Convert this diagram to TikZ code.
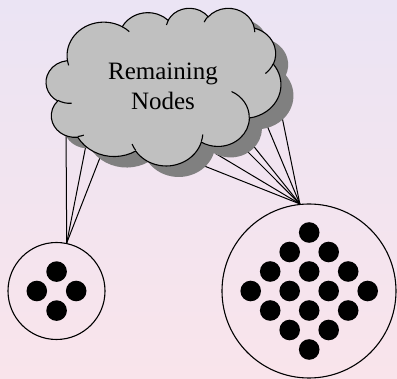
\documentclass[tikz,border=0pt]{standalone}
\usepackage{fontspec}
\setmainfont{Liberation Serif}
\newfontfamily\labelfont{Liberation Serif}

\definecolor{bgtop}{RGB}{235,228,244}
\definecolor{bgbottom}{RGB}{249,228,235}
\definecolor{cloudfill}{RGB}{192,192,192}
\definecolor{cloudshade}{RGB}{128,128,128}

% Convert a visual arc (start angle and sweep measured along rays, y pointing down)
% into the parametric start/end angles that TikZ's elliptic arc expects.
\newcommand\arcangles[4]{%
  \pgfmathsetmacro\cloudthA{#3}%
  \pgfmathsetmacro\cloudthB{#3+#4}%
  \pgfmathsetmacro\cloudta{atan2(#1*sin(\cloudthA),#2*cos(\cloudthA))}%
  \pgfmathsetmacro\cloudta{\cloudta+360*round((\cloudthA-\cloudta)/360)}%
  \pgfmathsetmacro\cloudtb{atan2(#1*sin(\cloudthB),#2*cos(\cloudthB))}%
  \pgfmathsetmacro\cloudtb{\cloudtb+360*round((\cloudthB-\cloudtb)/360)}%
}

% the eleven puffs of the cloud outline
\arcangles{67.53}{91.90}{-190.4875}{123.7805}\let\sA\cloudta\let\eA\cloudtb
\arcangles{53.33}{72.67}{-144.1024}{89.9452}\let\sB\cloudta\let\eB\cloudtb
\arcangles{43.65}{59.45}{-145.8079}{99.7230}\let\sC\cloudta\let\eC\cloudtb
\arcangles{48.57}{65.95}{-130.9861}{117.2417}\let\sD\cloudta\let\eD\cloudtb
\arcangles{53.33}{72.73}{-78.7089}{109.0269}\let\sE\cloudta\let\eE\cloudtb
\arcangles{67.75}{92.20}{-46.2673}{130.2690}\let\sF\cloudta\let\eF\cloudtb
\arcangles{57.85}{78.67}{0.6250}{114.0333}\let\sG\cloudta\let\eG\cloudtb
\arcangles{67.52}{92.15}{22.4516}{115.1726}\let\sH\cloudta\let\eH\cloudtb
\arcangles{77.20}{105.43}{66.2426}{75.7110}\let\sI\cloudta\let\eI\cloudtb
\arcangles{43.60}{59.18}{-274.9421}{146.7356}\let\sJ\cloudta\let\eJ\cloudtb
\arcangles{43.45}{59.45}{-246.8285}{152.5189}\let\sK\cloudta\let\eK\cloudtb

\newcommand\cloudoutline{(39.00,143.70)
  arc[start angle=\sA, end angle=\eA, x radius=67.53, y radius=91.90]
  arc[start angle=\sB, end angle=\eB, x radius=53.33, y radius=72.67]
  arc[start angle=\sC, end angle=\eC, x radius=43.65, y radius=59.45]
  arc[start angle=\sD, end angle=\eD, x radius=48.57, y radius=65.95]
  arc[start angle=\sE, end angle=\eE, x radius=53.33, y radius=72.73]
  arc[start angle=\sF, end angle=\eF, x radius=67.75, y radius=92.20]
  arc[start angle=\sG, end angle=\eG, x radius=57.85, y radius=78.67]
  arc[start angle=\sH, end angle=\eH, x radius=67.52, y radius=92.15]
  arc[start angle=\sI, end angle=\eI, x radius=77.20, y radius=105.43]
  arc[start angle=\sJ, end angle=\eJ, x radius=43.60, y radius=59.18]
  arc[start angle=\sK, end angle=\eK, x radius=43.45, y radius=59.45]
  -- cycle}

% one inner crease of the cloud: start point, radii, visual start, sweep
\newcommand\crease[6]{%
  \arcangles{#3}{#4}{#5}{#6}%
  \draw[puffline] (#1,#2) arc[start angle=\cloudta, end angle=\cloudtb, x radius=#3, y radius=#4];%
}

\begin{document}
\begin{tikzpicture}[x=1pt,y=-1pt,
  link/.style={line width=1pt},
  ring/.style={circle,draw=black,line width=1.1pt,inner sep=0pt},
  dot/.style={circle,fill=black,inner sep=0pt,minimum size=20.6pt},
  puffline/.style={line width=1.1pt,draw=black},
  cloudframe/.style={shift={(#1)},x=0.5432pt,y=-0.3649pt}]
\useasboundingbox (0,0) rectangle (397,379);
\shade[top color=bgtop,bottom color=bgbottom] (0,0) rectangle (397,379);

% the two groups
\node[ring,minimum size=97pt] (small) at (56.5,291) {};
\node[ring,minimum size=174pt] (big) at (309,291) {};

\node[dot] (s1) at (56.6,271.6) {};
\node[dot] (s2) at (36.8,291) {};
\node[dot] (s3) at (76.2,291) {};
\node[dot] (s4) at (56.6,310.6) {};

\foreach \i in {0,...,3}
  \foreach \j in {0,...,3}
    \node[dot] (b\i\j) at ({309.2+19.5*(\i-\j)},{291+19.5*(\i+\j-3)}) {};

% connector ends hidden under the cloud
\coordinate (la) at (66,125);
\coordinate (lb) at (87.2,139);
\coordinate (lc) at (103.2,149.4);
\coordinate (ra) at (196,162.7);
\coordinate (rb) at (215.1,153.2);
\coordinate (rc) at (241.9,145.9);
\coordinate (rd) at (249.8,141.4);
\coordinate (re) at (264.3,119);
\coordinate (rf) at (281.1,112.3);

\foreach \e in {la,lb,lc}
  \draw[link] (small.78.5) -- (\e);
\foreach \e in {ra,rb,rc,rd,re,rf}
  \draw[link] (big.96.5) -- (\e);

% cloud shadow
\begin{scope}[cloudframe={58.69,18.77}]
  \fill[cloudshade] \cloudoutline;
\end{scope}

% cloud body and its creases
\begin{scope}[cloudframe={46.19,7.77}]
  \filldraw[fill=cloudfill,draw=black,line width=1.1pt] \cloudoutline;
  \crease{46.93}{261.77}{43.45}{59.45}{86.742}{26.4295}
  \crease{69.28}{348.99}{43.60}{59.18}{73.6105}{11.4475}
  \crease{164.78}{390.90}{67.52}{92.15}{137.6241}{14.0811}
  \crease{288.27}{347.51}{67.52}{92.15}{6.4533}{15.9984}
  \crease{341.29}{229.54}{57.85}{78.67}{-70.2924}{70.9174}
  \crease{417.98}{153.54}{53.33}{72.73}{30.3180}{27.7515}
  \crease{383.24}{54.26}{48.57}{65.95}{-13.7443}{14.8589}
  \crease{290.78}{39.52}{48.57}{65.95}{-149.1815}{18.1954}
  \crease{221.41}{47.20}{43.65}{59.45}{-163.4943}{17.6864}
  \crease{140.00}{51.92}{67.53}{91.90}{-66.7070}{12.3194}
  \crease{41.27}{157.89}{67.53}{91.90}{157.6544}{11.8582}
\end{scope}

\node[font=\labelfont\fontsize{25}{29.3}\selectfont,align=center,anchor=north,inner sep=0pt]
  (label) at (163,63) {Remaining\\Nodes};
\end{tikzpicture}
\end{document}
